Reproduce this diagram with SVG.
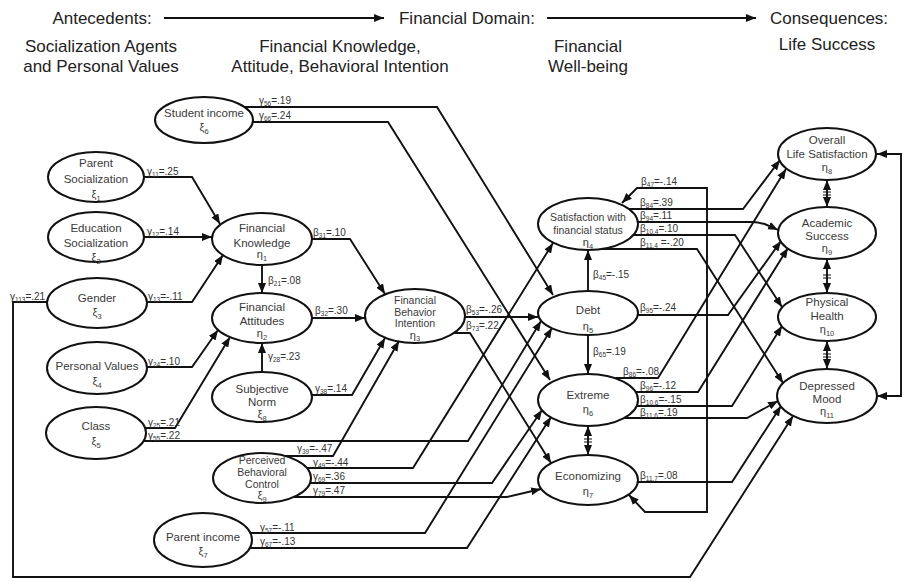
<svg xmlns="http://www.w3.org/2000/svg" width="904" height="581" viewBox="0 0 904 581">
<defs>
<marker id="ah" viewBox="0 0 10 8" refX="10" refY="4" markerWidth="10" markerHeight="8" markerUnits="userSpaceOnUse" orient="auto-start-reverse"><path d="M0,0 L10,4 L0,8 z" fill="#111"/></marker>
</defs>
<style>
text{font-family:"Liberation Sans",Arial,sans-serif}
.hd{font-size:17px;fill:#222;text-anchor:middle}
.node ellipse{fill:#fff;stroke:#111;stroke-width:2}
.node text{font-size:11.5px;fill:#3a3a3a;text-anchor:middle}
.node text.sm{font-size:10.5px}
.node .g{font-size:11px}
.node .s{font-size:7.5px}
.cn path{fill:none;stroke:#111;stroke-width:1.9;marker-end:url(#ah)}
.cn path.both{marker-start:url(#ah)}
.lb{font-size:10px;fill:#333}
.sb{font-size:6.5px}
.tick{fill:none;stroke:#111;stroke-width:1.2}
</style>
<rect width="904" height="581" fill="#fff"/>

<!-- column headings -->
<g id="header">
<text class="hd" x="102" y="24">Antecedents:</text>
<text class="hd" x="467" y="24">Financial Domain:</text>
<text class="hd" x="829" y="24">Consequences:</text>
<text class="hd" x="101" y="52">Socialization Agents</text>
<text class="hd" x="101" y="72">and Personal Values</text>
<text class="hd" x="340" y="52">Financial Knowledge,</text>
<text class="hd" x="340" y="72">Attitude, Behavioral Intention</text>
<text class="hd" x="588" y="52">Financial</text>
<text class="hd" x="588" y="72">Well-being</text>
<text class="hd" x="827" y="50">Life Success</text>
</g>

<!-- exogenous variables -->
<g id="n-parent-socialization" class="node"><ellipse cx="96" cy="177" rx="48" ry="25"/>
<text x="96" y="167">Parent</text><text x="96" y="183">Socialization</text><text x="96" y="198" class="g">ξ<tspan class="s" dy="3">1</tspan></text></g>
<g id="n-education-socialization" class="node"><ellipse cx="96" cy="237" rx="48" ry="25"/>
<text x="96" y="232">Education</text><text x="96" y="247">Socialization</text><text x="96" y="261" class="g">ξ<tspan class="s" dy="3">2</tspan></text></g>
<g id="n-gender" class="node"><ellipse cx="97" cy="303" rx="50" ry="25"/>
<text x="97" y="302">Gender</text><text x="97" y="316" class="g">ξ<tspan class="s" dy="3">3</tspan></text></g>
<g id="n-personal-values" class="node"><ellipse cx="97" cy="368" rx="50" ry="26"/>
<text x="97" y="370">Personal Values</text><text x="97" y="385" class="g">ξ<tspan class="s" dy="3">4</tspan></text></g>
<g id="n-class" class="node"><ellipse cx="96" cy="433" rx="50" ry="26"/>
<text x="96" y="430">Class</text><text x="96" y="445" class="g">ξ<tspan class="s" dy="3">5</tspan></text></g>
<g id="n-student-income" class="node"><ellipse cx="204" cy="120" rx="49" ry="23"/>
<text x="204" y="117">Student income</text><text x="204" y="131" class="g">ξ<tspan class="s" dy="3">6</tspan></text></g>
<g id="n-parent-income" class="node"><ellipse cx="203" cy="540" rx="49" ry="27"/>
<text x="203" y="541">Parent income</text><text x="203" y="555" class="g">ξ<tspan class="s" dy="3">7</tspan></text></g>

<!-- knowledge, attitude, intention -->
<g id="n-financial-knowledge" class="node"><ellipse cx="262" cy="239" rx="50" ry="26"/>
<text x="262" y="232">Financial</text><text x="262" y="247">Knowledge</text><text x="262" y="258" class="g">η<tspan class="s" dy="3">1</tspan></text></g>
<g id="n-financial-attitudes" class="node"><ellipse cx="262" cy="318" rx="50" ry="25"/>
<text x="262" y="311">Financial</text><text x="262" y="325">Attitudes</text><text x="262" y="337" class="g">η<tspan class="s" dy="3">2</tspan></text></g>
<g id="n-subjective-norm" class="node"><ellipse cx="262" cy="397" rx="50" ry="25"/>
<text x="262" y="393">Subjective</text><text x="262" y="406">Norm</text><text x="262" y="418" class="g">ξ<tspan class="s" dy="3">8</tspan></text></g>
<g id="n-perceived-control" class="node"><ellipse cx="262" cy="478" rx="49" ry="25"/>
<text x="262" y="464" class="sm">Perceived</text><text x="262" y="476" class="sm">Behavioral</text><text x="262" y="488" class="sm">Control</text><text x="262" y="499" class="g">ξ<tspan class="s" dy="3">9</tspan></text></g>
<g id="n-behavior-intention" class="node"><ellipse cx="415" cy="316" rx="50" ry="27"/>
<text x="415" y="304" class="sm">Financial</text><text x="415" y="315.5" class="sm">Behavior</text><text x="415" y="327" class="sm">Intention</text><text x="415" y="338.5" class="g">η<tspan class="s" dy="2.5">3</tspan></text></g>

<!-- financial well-being -->
<g id="n-satisfaction" class="node"><ellipse cx="588" cy="224" rx="50" ry="26"/>
<text x="588" y="221" class="sm">Satisfaction with</text><text x="588" y="233.5" class="sm">financial status</text><text x="588" y="246" class="g">η<tspan class="s" dy="2.5">4</tspan></text></g>
<g id="n-debt" class="node"><ellipse cx="588" cy="313" rx="50" ry="22"/>
<text x="588" y="314">Debt</text><text x="588" y="330" class="g">η<tspan class="s" dy="3">5</tspan></text></g>
<g id="n-extreme" class="node"><ellipse cx="588" cy="400" rx="50" ry="26"/>
<text x="588" y="399">Extreme</text><text x="588" y="413" class="g">η<tspan class="s" dy="3">6</tspan></text></g>
<g id="n-economizing" class="node"><ellipse cx="588" cy="480" rx="50" ry="25"/>
<text x="588" y="480">Economizing</text><text x="588" y="495" class="g">η<tspan class="s" dy="3">7</tspan></text></g>

<!-- life success -->
<g id="n-life-satisfaction" class="node"><ellipse cx="827" cy="154" rx="49" ry="26"/>
<text x="827" y="144">Overall</text><text x="827" y="158">Life Satisfaction</text><text x="827" y="171" class="g">η<tspan class="s" dy="3">8</tspan></text></g>
<g id="n-academic-success" class="node"><ellipse cx="827" cy="233" rx="49" ry="26"/>
<text x="827" y="227">Academic</text><text x="827" y="240">Success</text><text x="827" y="252" class="g">η<tspan class="s" dy="3">9</tspan></text></g>
<g id="n-physical-health" class="node"><ellipse cx="827" cy="317" rx="49" ry="24"/>
<text x="827" y="306">Physical</text><text x="827" y="320">Health</text><text x="827" y="333" class="g">η<tspan class="s" dy="3">10</tspan></text></g>
<g id="n-depressed-mood" class="node"><ellipse cx="827" cy="396" rx="50" ry="27"/>
<text x="827" y="390">Depressed</text><text x="827" y="403">Mood</text><text x="827" y="415" class="g">η<tspan class="s" dy="3">11</tspan></text></g>

<!-- paths -->
<g id="connectors" class="cn">
<path d="M164,18 H384"/>
<path d="M547,18 H756"/>
<path d="M244,107 H437 L553,295"/>
<path d="M253,122 H388 L550,380"/>
<path d="M144,177 H192 L220,224"/>
<path d="M144,237 H212"/>
<path d="M147,302 H192 L223,255"/>
<path d="M262,265 V293"/>
<path d="M312,239 H350 L385,294"/>
<path d="M312,318 H365"/>
<path d="M147,367 H192 L218,330"/>
<path d="M145,428 H175 L230,337"/>
<path d="M144,441 H468 L541,321"/>
<path d="M262,372 V343"/>
<path d="M312,395 H352 L385,338"/>
<path d="M285,456 H333 L399,341"/>
<path d="M307,468 H413 L553,243"/>
<path d="M310,483 H492 L542,410"/>
<path d="M294,497 H507 L541,489"/>
<path d="M250,533 H425 L552,328"/>
<path d="M250,548 H467 L551,417"/>
<path d="M465,317 H538"/>
<path d="M454,333 H470 L551,463"/>
<path d="M588,291 V250"/>
<path d="M588,335 V374"/>
<path class="both" d="M588,426 V455"/>
<path class="both" d="M622,203 L637,188 H707 V512 H645 L629,495"/>
<path d="M629,209 H743 L780,160"/>
<path d="M638,222 H752 C762,222 770,226 778,230"/>
<path d="M633,235 H735 L782,307"/>
<path d="M602,249 H697 L783,383"/>
<path d="M638,315 H728 L781,241"/>
<path d="M615,378 H658 L786,169"/>
<path d="M636,392 H698 L788,248"/>
<path d="M637,406 H732 L782,326"/>
<path d="M624,418 H747 L778,401"/>
<path d="M638,482 H732 L781,406"/>
<path d="M47,302 H13 V577 H690 L793,416"/>
<path class="both" d="M877,154 H901 V396 H877"/>
<path class="both" d="M827,180 V207"/>
<path class="both" d="M827,259 V293"/>
<path class="both" d="M827,341 V369"/>
</g>
<g id="correlation-ticks">
<path class="tick" d="M584,439 h8 M584,442 h8 M823,192 h8 M823,195 h8 M823,275 h8 M823,278 h8 M823,354 h8 M823,357 h8"/>
</g>

<!-- path coefficients -->
<g id="edge-labels">
<text class="lb" x="259" y="104">γ<tspan class="sb" dy="2">56</tspan><tspan dy="-2">=.19</tspan></text>
<text class="lb" x="259" y="119">γ<tspan class="sb" dy="2">66</tspan><tspan dy="-2">=.24</tspan></text>
<text class="lb" x="147" y="175">γ<tspan class="sb" dy="2">11</tspan><tspan dy="-2">=.25</tspan></text>
<text class="lb" x="147" y="235">γ<tspan class="sb" dy="2">12</tspan><tspan dy="-2">=.14</tspan></text>
<text class="lb" x="148" y="300">γ<tspan class="sb" dy="2">13</tspan><tspan dy="-2">=-.11</tspan></text>
<text class="lb" x="10" y="300">γ<tspan class="sb" dy="2">113</tspan><tspan dy="-2">=.21</tspan></text>
<text class="lb" x="148" y="365">γ<tspan class="sb" dy="2">24</tspan><tspan dy="-2">=.10</tspan></text>
<text class="lb" x="148" y="426">γ<tspan class="sb" dy="2">25</tspan><tspan dy="-2">=.21</tspan></text>
<text class="lb" x="148" y="439">γ<tspan class="sb" dy="2">55</tspan><tspan dy="-2">=.22</tspan></text>
<text class="lb" x="313" y="236">β<tspan class="sb" dy="2">31</tspan><tspan dy="-2">=.10</tspan></text>
<text class="lb" x="268" y="284">β<tspan class="sb" dy="2">21</tspan><tspan dy="-2">=.08</tspan></text>
<text class="lb" x="315" y="314">β<tspan class="sb" dy="2">32</tspan><tspan dy="-2">=.30</tspan></text>
<text class="lb" x="268" y="360">γ<tspan class="sb" dy="2">28</tspan><tspan dy="-2">=.23</tspan></text>
<text class="lb" x="315" y="392">γ<tspan class="sb" dy="2">38</tspan><tspan dy="-2">=.14</tspan></text>
<text class="lb" x="297" y="452">γ<tspan class="sb" dy="2">39</tspan><tspan dy="-2">=-.47</tspan></text>
<text class="lb" x="313" y="466">γ<tspan class="sb" dy="2">49</tspan><tspan dy="-2">=-.44</tspan></text>
<text class="lb" x="313" y="480">γ<tspan class="sb" dy="2">69</tspan><tspan dy="-2">=.36</tspan></text>
<text class="lb" x="313" y="494">γ<tspan class="sb" dy="2">79</tspan><tspan dy="-2">=.47</tspan></text>
<text class="lb" x="260" y="531">γ<tspan class="sb" dy="2">57</tspan><tspan dy="-2">=-.11</tspan></text>
<text class="lb" x="260" y="545">γ<tspan class="sb" dy="2">67</tspan><tspan dy="-2">=-.13</tspan></text>
<text class="lb" x="466" y="313">β<tspan class="sb" dy="2">53</tspan><tspan dy="-2">=-.26</tspan></text>
<text class="lb" x="466" y="329">β<tspan class="sb" dy="2">73</tspan><tspan dy="-2">=.22</tspan></text>
<text class="lb" x="593" y="278">β<tspan class="sb" dy="2">45</tspan><tspan dy="-2">=-.15</tspan></text>
<text class="lb" x="593" y="355">β<tspan class="sb" dy="2">65</tspan><tspan dy="-2">=.19</tspan></text>
<text class="lb" x="641" y="185">β<tspan class="sb" dy="2">47</tspan><tspan dy="-2">=-.14</tspan></text>
<text class="lb" x="640" y="206">β<tspan class="sb" dy="2">84</tspan><tspan dy="-2">=.39</tspan></text>
<text class="lb" x="640" y="219">β<tspan class="sb" dy="2">94</tspan><tspan dy="-2">=.11</tspan></text>
<text class="lb" x="640" y="232">β<tspan class="sb" dy="2">10,4</tspan><tspan dy="-2">=.10</tspan></text>
<text class="lb" x="640" y="246">β<tspan class="sb" dy="2">11,4</tspan><tspan dy="-2"> =-.20</tspan></text>
<text class="lb" x="640" y="311">β<tspan class="sb" dy="2">95</tspan><tspan dy="-2">=-.24</tspan></text>
<text class="lb" x="623" y="375">β<tspan class="sb" dy="2">86</tspan><tspan dy="-2">=-.08</tspan></text>
<text class="lb" x="640" y="389">β<tspan class="sb" dy="2">96</tspan><tspan dy="-2">=-.12</tspan></text>
<text class="lb" x="640" y="403">β<tspan class="sb" dy="2">10,6</tspan><tspan dy="-2">=-.15</tspan></text>
<text class="lb" x="640" y="416">β<tspan class="sb" dy="2">11,6</tspan><tspan dy="-2">=.19</tspan></text>
<text class="lb" x="640" y="479">β<tspan class="sb" dy="2">11,7</tspan><tspan dy="-2">=.08</tspan></text>
</g>
</svg>
